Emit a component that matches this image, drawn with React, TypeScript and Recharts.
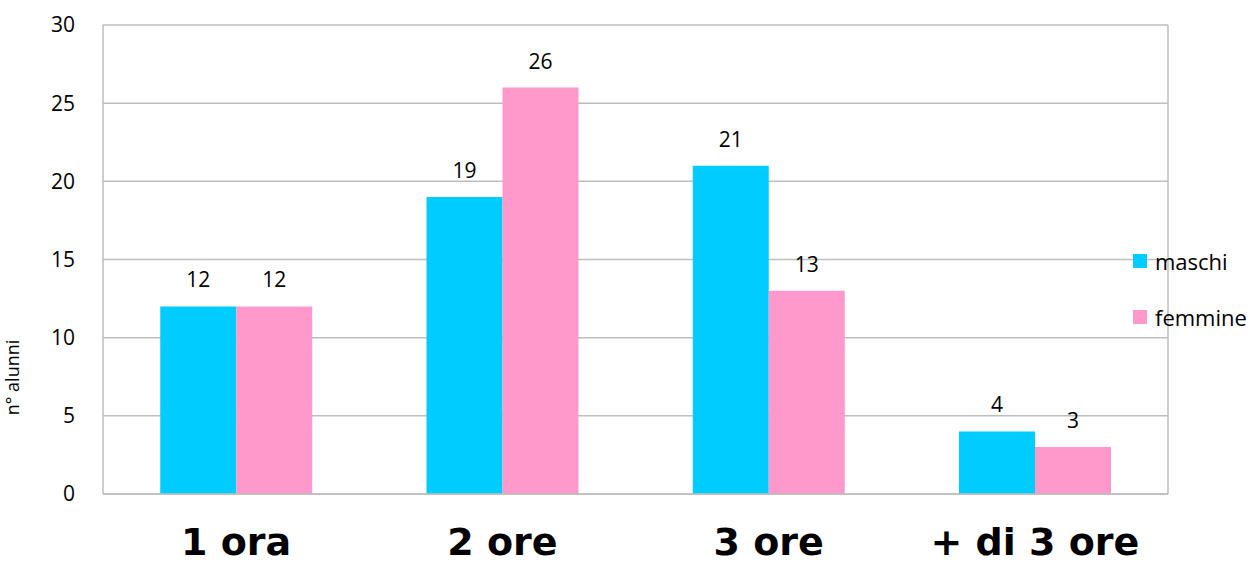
import React from "react";
import { BarChart, Bar, XAxis, YAxis, CartesianGrid, LabelList } from "recharts";

const categories = ["1 ora", "2 ore", "3 ore", "+ di 3 ore"];
const maschi = [12, 19, 21, 4];
const femmine = [12, 26, 13, 3];
const yTicks = [0, 5, 10, 15, 20, 25, 30];

const series = [
  { key: "maschi", label: "maschi", color: "#00CCFF" },
  { key: "femmine", label: "femmine", color: "#FF99CC" },
];

const data = categories.map((c, i) => ({ name: c, maschi: maschi[i], femmine: femmine[i] }));

const FONT = "'Open Sans', sans-serif";
const GRID = "#BEBEBE";

function CategoryTick(props: any) {
  const { x, y, payload } = props;
  return (
    <text
      x={x}
      y={y + 53}
      textAnchor="middle"
      fontFamily="'DejaVu Sans', sans-serif"
      fontWeight="bold"
      fontSize={38}
      fill="#000"
    >
      {payload.value}
    </text>
  );
}

export default function App() {
  return (
    <div style={{ position: "absolute", left: 0, top: 0, width: 1251, height: 562, background: "#fff" }}>
      <BarChart
        width={1251}
        height={562}
        data={data}
        margin={{ top: 25, right: 83, bottom: 0, left: 0 }}
        barCategoryGap="21.5%"
        barGap={0}
      >
        <CartesianGrid
          stroke={GRID}
          strokeWidth={1.5}
          verticalCoordinatesGenerator={({ offset }: any) => [offset.left + offset.width]}
        />
        <XAxis
          dataKey="name"
          height={68}
          axisLine={{ stroke: GRID, strokeWidth: 1.5 }}
          tickLine={false}
          tick={<CategoryTick />}
          interval={0}
        />
        <YAxis
          width={103}
          domain={[0, 30]}
          ticks={yTicks}
          axisLine={{ stroke: GRID, strokeWidth: 1.5 }}
          tickLine={false}
          tickMargin={22}
          tick={{ fontFamily: FONT, fontSize: 21, fill: "#000" }}
          label={{
            value: "n° alunni",
            angle: -90,
            position: "insideLeft",
            dx: 8,
            dy: 118,
            style: { fontFamily: FONT, fontSize: 18, fill: "#000", textAnchor: "middle" },
          }}
        />
        {series.map((s) => (
          <Bar key={s.key} dataKey={s.key} fill={s.color} isAnimationActive={false}>
            <LabelList
              dataKey={s.key}
              position="top"
              offset={19}
              style={{ fontFamily: FONT, fontSize: 21, fill: "#000" }}
            />
          </Bar>
        ))}
      </BarChart>
      <div style={{ position: "absolute", left: 1133, top: 247, fontFamily: FONT, fontSize: 22 }}>
        {series.map((s) => (
          <div key={s.key} style={{ display: "flex", alignItems: "center", height: 28, marginBottom: 28 }}>
            <span style={{ width: 14, height: 14, background: s.color, marginRight: 8, display: "inline-block" }} />
            <span style={{ color: "#000" }}>{s.label}</span>
          </div>
        ))}
      </div>
    </div>
  );
}
